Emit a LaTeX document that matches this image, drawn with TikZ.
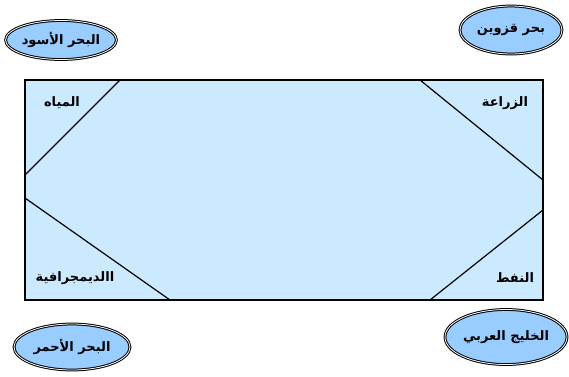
\documentclass[tikz,border=0pt]{standalone}
\usepackage{fontspec}
\newfontfamily\arabicfont[Script=Arabic]{DejaVu Sans}
\TeXXeTstate=1
\usepackage{tikz}
\usetikzlibrary{shapes.geometric}
\definecolor{seablue}{RGB}{153,204,255}
\definecolor{paleblue}{RGB}{204,234,255}
\newcommand{\ar}[1]{\arabicfont\bfseries\beginR #1\endR}

\begin{document}
\begin{tikzpicture}[x=1pt, y=-1pt,
  sea/.style = {ellipse, draw, fill=seablue, double=white, double distance=0.8pt,
    line width=1pt, inner sep=0pt, font=\fontsize{13}{15}\selectfont},
  field/.style = {font=\fontsize{13}{15}\selectfont}]
\useasboundingbox (0,0) rectangle (569,376);
\pgfmathsetmacro{\l}{25}  % left edge
\pgfmathsetmacro{\r}{543} % right edge
\pgfmathsetmacro{\t}{80}  % top edge
\pgfmathsetmacro{\b}{300} % bottom edge
\draw[fill=paleblue, line width=1.2pt] (\l,\t) rectangle (\r,\b);
\coordinate (tl1) at (120,\t);
\coordinate (tl2) at (\l,175);
\coordinate (tr1) at (420,\t);
\coordinate (tr2) at (\r,180);
\coordinate (bl1) at (\l,198);
\coordinate (bl2) at (170,\b);
\coordinate (br1) at (\r,210);
\coordinate (br2) at (430,\b);
\draw[line width=1.2pt] (tl1) -- (tl2);
\draw[line width=1.2pt] (tr1) -- (tr2);
\draw[line width=1.2pt] (bl1) -- (bl2);
\draw[line width=1.2pt] (br1) -- (br2);
\node[field] (water) at (62,103) {\ar{المياه}};
\node[field] (farm) at (505,103) {\ar{الزراعة}};
\node[field] (people) at (75,278) {\ar{االديمجرافية}};
\node[field] (oil) at (515,278) {\ar{النفط}};
\node[sea, minimum width=106pt, minimum height=39pt] (black) at (61,40) {\ar{البحر الأسود}};
\node[sea, minimum width=102pt, minimum height=48pt] (caspian) at (511,30) {\ar{بحر قزوين}};
\node[sea, minimum width=116pt, minimum height=46pt] (red) at (72,347) {\ar{البحر الأحمر}};
\node[sea, minimum width=122pt, minimum height=55pt] (gulf) at (506,337) {\ar{الخليج العربي}};
\end{tikzpicture}
\end{document}
